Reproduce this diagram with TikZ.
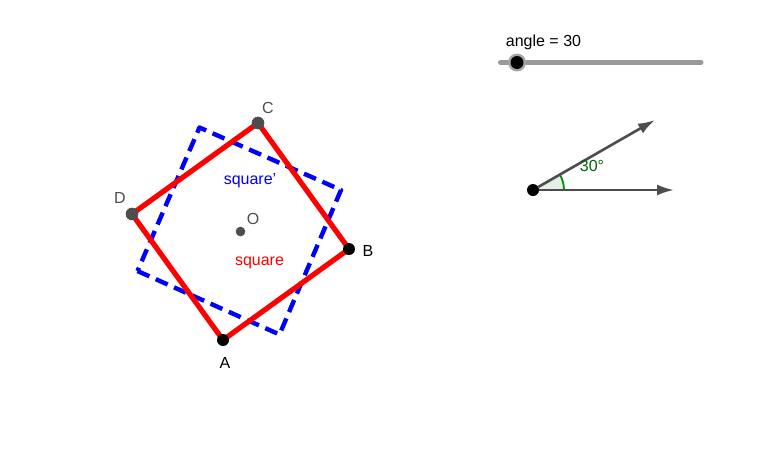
\documentclass[tikz,border=0pt]{standalone}
\usepackage{fontspec}
\setmainfont{Liberation Sans}
\usetikzlibrary{arrows.meta,backgrounds}
\definecolor{ptgray}{HTML}{4D4D4D}
\definecolor{slidergray}{HTML}{999999}
\definecolor{anglegreen}{HTML}{006400}
\tikzset{
  lbl/.style={inner sep=0pt, font=\fontsize{16}{18}\selectfont},
  darkpt/.style={circle, inner sep=0pt, minimum size=12pt, fill=ptgray, draw=black!70, line width=0.6pt},
  blackpt/.style={circle, inner sep=0pt, minimum size=12pt, fill=black},
  sqline/.style={red, line width=5.2pt, shorten <=-2pt, shorten >=-2pt},
  sqdash/.style={blue, line width=4.4pt, line join=round, dash pattern=on 13pt off 7pt},
  ray/.style={ptgray, line width=2.6pt, -{Latex[length=17pt,width=11pt]}}
}

\begin{document}
\begin{tikzpicture}[x=1pt, y=-1pt]
  \useasboundingbox (0,0) rectangle (777,464);
  % square
  \node[blackpt] (A) at (223,340) {};
  \node[blackpt] (B) at (349,249) {};
  \node[darkpt] (C) at (258,123) {};
  \node[darkpt] (D) at (132,214) {};
  \node[darkpt, minimum size=9pt] (O) at (240.5,231.5) {};
  % rotated square
  \coordinate (P1) at (137.5,271);
  \coordinate (P2) at (279.5,334.5);
  \coordinate (P3) at (341,190);
  \coordinate (P4) at (199.5,127.5);
  \begin{scope}[on background layer]
    \draw[sqdash] (P1) -- (P2) -- (P3) -- (P4) -- cycle;
    \draw[sqline] (A) -- (B);
    \draw[sqline] (B) -- (C);
    \draw[sqline] (C) -- (D);
    \draw[sqline] (D) -- (A);
  \end{scope}
  \node[lbl] (labelA) at (225,363) {A};
  \node[lbl] (labelB) at (368,250.5) {B};
  \node[lbl, text=ptgray] (labelC) at (268,107.5) {C};
  \node[lbl, text=ptgray] (labelD) at (120,198) {D};
  \node[lbl, text=ptgray] (labelO) at (253,218.5) {O};
  \node[lbl, text=blue] (labelsqp) at (250,180.5) {square'};
  \node[lbl, text=red] (labelsq) at (259.5,263) {square};
  % slider
  \coordinate (S1) at (500.5,62.5);
  \coordinate (S2) at (701,62.5);
  \draw[slidergray, line width=5pt, line cap=round] (S1) -- (S2);
  \node[circle, inner sep=0pt, minimum size=18pt, fill=gray!70] (knobring) at (517,62.5) {};
  \node[blackpt, minimum size=13pt] (knob) at (517,62.5) {};
  \node[lbl] (labelangle) at (543.5,42.5) {angle = 30};
  % angle
  \coordinate (R1) at (674,190);
  \coordinate (R2) at (655,120);
  \coordinate (V) at (533,190);
  \fill[green!40!black, fill opacity=0.1] (V) -- (564,190) arc[start angle=0, end angle=-30, x radius=31pt, y radius=-31pt] -- cycle;
  \draw[anglegreen!70!green, line width=1.8pt] (564,190) arc[start angle=0, end angle=-30, x radius=31pt, y radius=-31pt];
  \node[blackpt] (vertex) at (V) {};
  \draw[ray] (vertex) -- (R1);
  \draw[ray] (vertex) -- (R2);
  \node[lbl, text=anglegreen] (labelval) at (592,166) {30°};
\end{tikzpicture}
\end{document}
